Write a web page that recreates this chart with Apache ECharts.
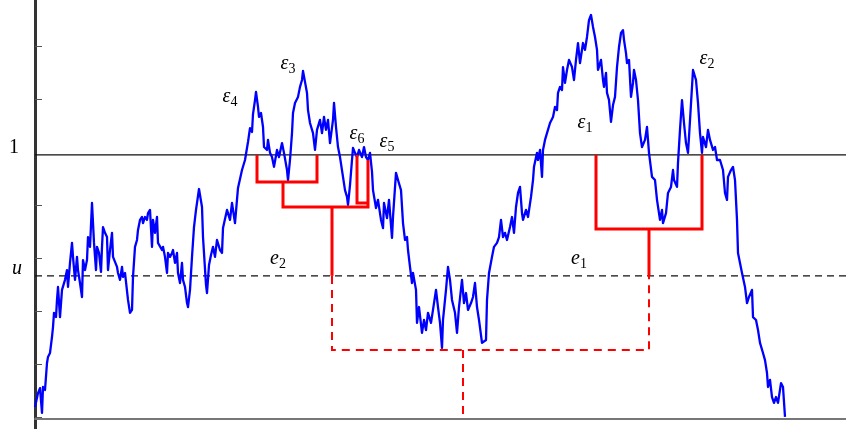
<!DOCTYPE html>
<html><head><meta charset="utf-8">
<script src="https://cdn.jsdelivr.net/npm/echarts@6/dist/echarts.min.js"></script>
<style>html,body{margin:0;padding:0;background:#fff}#c{width:846px;height:429px}</style>
</head><body><div id="c"></div>
<script>
// Path of the process: [time, value]; level 1 is the solid horizontal line
const pathPoints = [
[0,0.045],[3,0.098],[5,0.117],[7,0.023],[8,0.121],[10,0.110],[12,0.212],[13,0.235],[15,0.250],[17,0.311],[18,0.348],[19,0.402],[21,0.386],[22,0.451],[23,0.500],[25,0.386],[27,0.489],[28,0.489],[30,0.527],[32,0.564],[33,0.500],[35,0.591],[37,0.667],[38,0.614],[40,0.527],[42,0.614],[43,0.564],[45,0.515],[47,0.462],[48,0.602],[50,0.564],[52,0.602],[53,0.689],[55,0.652],[57,0.818],[59,0.667],[61,0.564],[62,0.652],[64,0.629],[66,0.557],[67,0.652],[68,0.727],[70,0.705],[72,0.689],[73,0.564],[75,0.640],[77,0.705],[78,0.614],[80,0.614],[82,0.576],[83,0.553],[85,0.527],[87,0.576],[88,0.538],[90,0.553],[92,0.553],[93,0.451],[95,0.402],[97,0.413],[98,0.538],[100,0.652],[102,0.678],[103,0.716],[105,0.754],[107,0.765],[108,0.742],[110,0.765],[112,0.754],[113,0.780],[115,0.792],[117,0.652],[118,0.754],[120,0.705],[122,0.765],[123,0.667],[125,0.667],[127,0.640],[128,0.652],[130,0.614],[132,0.553],[133,0.629],[135,0.614],[137,0.629],[138,0.640],[140,0.591],[142,0.629],[143,0.553],[145,0.515],[147,0.591],[148,0.527],[150,0.500],[152,0.439],[153,0.424],[155,0.489],[157,0.614],[159,0.727],
[161,0.792],[164,0.871],[167,0.803],[168,0.689],[171,0.508],[172,0.477],[174,0.583],[176,0.621],[178,0.652],[180,0.614],[182,0.678],[185,0.640],[187,0.629],[188,0.723],[192,0.792],[195,0.754],[197,0.818],[200,0.742],[203,0.875],[207,0.943],[210,0.981],[213,1.049],[215,1.102],[217,1.087],[218,1.155],[220,1.208],[221,1.239],
[223,1.182],[224,1.144],[226,1.159],[228,1.106],[229,1.030],[232,1.019],[233,1.057],[235,1.008],[237,0.992],[239,0.955],[242,1.019],[244,0.992],[247,1.045],[249,1.008],[252,0.943],[253,0.905],[255,0.981],[257,1.083],[258,1.159],[260,1.197],[263,1.220],[265,1.258],[267,1.284],[268,1.318],[270,1.277],[272,1.235],[273,1.170],[275,1.121],[278,1.083],[280,1.019],[282,1.095],[285,1.133],[287,1.083],[289,1.144],[291,1.095],[293,1.133],[295,1.045],[298,1.133],[299,1.197],[301,1.106],[303,1.030],[305,0.992],[308,0.917],[310,0.867],[312,0.841],[313,0.811],[315,0.886],[317,0.981],[318,1.027],[320,1.008],[322,0.992],[324,1.019],[327,0.992],[329,1.030],[331,0.992],[333,0.981],[335,1.008],[337,0.936],[338,0.867],[341,0.799],[343,0.830],[346,0.754],[348,0.723],[349,0.818],[352,0.761],[354,0.830],[357,0.686],[358,0.765],[361,0.932],[363,0.905],[366,0.867],[368,0.742],[370,0.678],[372,0.689],[373,0.640],[375,0.576],[377,0.515],[378,0.553],[381,0.489],[382,0.364],[384,0.424],[387,0.326],[389,0.375],[391,0.337],[393,0.402],[396,0.364],[398,0.413],[401,0.489],[403,0.424],[405,0.364],[407,0.269],[408,0.375],[411,0.489],[413,0.576],[415,0.527],[417,0.451],[420,0.402],[422,0.326],[424,0.424],[427,0.527],[429,0.439],[431,0.477],[433,0.413],[436,0.439],[438,0.462],[440,0.515],[442,0.424],[444,0.375],[447,0.288],[449,0.288],[451,0.299],[452,0.451],[454,0.553],[457,0.614],[459,0.652],[462,0.667],[464,0.689],
[466,0.754],[468,0.689],[470,0.705],[472,0.678],[475,0.727],[477,0.765],[479,0.705],[481,0.803],[483,0.856],[485,0.879],[487,0.780],[488,0.754],[491,0.792],[493,0.765],[496,0.841],[498,0.905],[499,0.955],[502,1.008],[503,0.981],[505,1.019],[507,0.917],[508,1.019],[510,1.057],[512,1.083],[515,1.121],[518,1.144],[520,1.182],[522,1.170],[523,1.235],[525,1.258],[527,1.246],[528,1.333],[530,1.273],[532,1.322],[534,1.360],[537,1.333],[539,1.284],[541,1.360],[543,1.424],[545,1.348],[548,1.424],[550,1.398],[552,1.447],[554,1.511],[556,1.530],[558,1.485],[560,1.447],[562,1.398],[563,1.322],[566,1.360],[568,1.284],[569,1.258],[571,1.311],[572,1.235],[574,1.208],[576,1.125],[578,1.189],[580,1.220],[582,1.333],[584,1.409],[586,1.462],[588,1.473],[589,1.436],[591,1.386],[592,1.348],[594,1.360],[596,1.220],[598,1.273],[599,1.322],[601,1.284],[603,1.208],[605,1.083],
[607,1.030],[610,1.057],[612,1.106],[614,1.008],[617,0.917],[620,0.905],[622,0.830],[625,0.754],[627,0.792],[628,0.742],[631,0.780],[633,0.856],[636,0.879],[638,0.943],[639,0.905],[642,0.879],[643,0.970],[645,1.095],[647,1.208],[649,1.121],[651,1.045],[653,1.008],[654,1.068],[657,1.258],[658,1.322],[661,1.284],[663,1.197],[665,1.083],[667,1.008],[668,1.068],[671,1.030],[673,1.095],[675,1.057],[678,1.019],[680,1.030],[682,0.981],[685,0.981],[688,0.943],[690,0.856],[692,0.830],[693,0.917],[696,0.943],[698,0.955],[700,0.905],[702,0.754],[703,0.629],[707,0.553],[710,0.500],[712,0.439],[714,0.462],[717,0.489],[718,0.386],[721,0.375],[723,0.337],[725,0.288],[728,0.250],[730,0.223],[732,0.174],[733,0.121],[735,0.148],[737,0.083],[739,0.061],[741,0.083],[743,0.061],[746,0.136],[748,0.121],[750,0.008]
];
const level = 1.0;
const uLevel = 0.542;
const timeMax = 811;
const yTicks = [0.008, 0.208, 0.409, 0.609, 0.810, 1.211, 1.412];
const treeSolid = [
  [[222,1.0],[222,0.898],[282,0.898],[282,1.0]],
  [[248,0.898],[248,0.803],[333,0.803],[333,0.981]],
  [[322,1.0],[322,0.818],[333,0.818]],
  [[297,0.803],[297,0.542]],
  [[561,1.0],[561,0.720],[667,0.720],[667,1.0]],
  [[614,0.720],[614,0.542]]
];
const treeDashed = [
  [[297,0.542],[297,0.261],[614,0.261],[614,0.542]],
  [[428,0.261],[428,0]]
];
const labelSym = ['ε','ε','ε','ε','ε','ε','e','e'];
const labelSub = ['1','2','3','4','5','6','1','2'];
const labelT   = [550, 672, 253, 195, 352, 322, 544, 243];
const labelV   = [1.121, 1.364, 1.345, 1.220, 1.049, 1.080, 0.605, 0.605];

const chart = echarts.init(document.getElementById('c'), null, {renderer:'canvas'});
const serif = '"Liberation Serif","DejaVu Serif",serif';
const series = [];
series.push({type:'line', data:[[0,level],[timeMax,level]], showSymbol:false, silent:true, z:1,
  lineStyle:{color:'#111', width:1.2, opacity:1}});
series.push({type:'line', data:[[0,uLevel],[timeMax,uLevel]], showSymbol:false, silent:true, z:1,
  lineStyle:{color:'#111', width:1.1, type:[7,5], opacity:1}});
series.push({type:'line', data:pathPoints, showSymbol:false, silent:true, z:3,
  lineStyle:{color:'#0000ff', width:2.3, join:'round', opacity:1}});
treeSolid.forEach(p => series.push({type:'line', data:p, showSymbol:false, silent:true, z:5,
  lineStyle:{color:'#ff0000', width:3, join:'miter', cap:'butt', opacity:1}}));
treeDashed.forEach(p => series.push({type:'line', data:p, showSymbol:false, silent:true, z:5,
  lineStyle:{color:'#ff0000', width:2, type:[8,6], join:'miter', opacity:1}}));
series.push({type:'scatter', symbolSize:0, silent:true, z:6,
  itemStyle:{opacity:1},
  data: labelT.map((t,i)=>({value:[t,labelV[i]], label:{formatter:'{m|'+labelSym[i]+'}{s|'+labelSub[i]+'}'}})),
  label:{show:true, position:'inside', color:'#000', opacity:1,
    rich:{ m:{fontFamily:serif, fontStyle:'italic', fontSize:20, lineHeight:24, color:'#000'},
           s:{fontFamily:serif, fontSize:14, lineHeight:14, verticalAlign:'bottom', color:'#000'} }}
});

chart.setOption({
  animation:false,
  grid:{left:35, right:0, top:0, bottom:0, containLabel:false},
  xAxis:{type:'value', min:0, max:timeMax,
    axisLine:{show:true, onZero:true, lineStyle:{color:'#777', width:2}},
    axisTick:{show:false}, axisLabel:{show:false}, splitLine:{show:false}},
  yAxis:{type:'value', min:-0.038, max:1.587,
    axisLine:{show:true, onZero:true, lineStyle:{color:'#333', width:3}},
    axisTick:{show:true, inside:true, length:7, customValues:yTicks, lineStyle:{color:'#555', width:1}},
    axisLabel:{show:true, customValues:[uLevel, level], margin:13, color:'#000',
      formatter: v => v > 0.9 ? '{one|1}' : '{uu|u}',
      rich:{ one:{fontFamily:serif, fontSize:20, color:'#000', padding:[0,3,14,0]},
             uu:{fontFamily:serif, fontStyle:'italic', fontSize:20, color:'#000', padding:[0,0,14,0]} }},
    splitLine:{show:false}},
  series: series
});
</script></body></html>
